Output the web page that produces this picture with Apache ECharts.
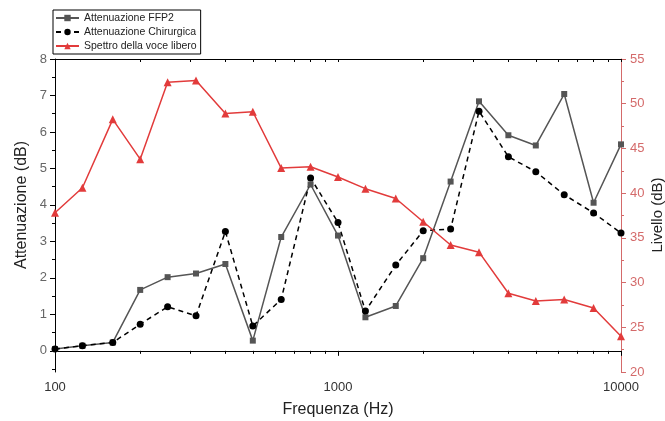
<!DOCTYPE html>
<html>
<head>
<meta charset="utf-8">
<script src="https://cdn.jsdelivr.net/npm/echarts@6/dist/echarts.min.js"></script>
<style>
html,body{margin:0;padding:0;background:#fff;}
#chart{width:665px;height:421px;}
</style>
</head>
<body>
<div id="chart"></div>
<script>
var freqs = [100,125,160,200,250,315,400,500,630,800,1000,1250,1600,2000,2500,3150,4000,5000,6300,8000,10000];
var ffp2 = [0.05,0.14,0.23,1.67,2.02,2.12,2.38,0.28,3.12,4.56,3.16,0.92,1.23,2.54,4.64,6.84,5.91,5.63,7.04,4.06,5.66];
var chirurgica = [0.05,0.14,0.23,0.73,1.21,0.96,3.27,0.68,1.41,4.74,3.52,1.09,2.35,3.29,3.34,6.57,5.32,4.91,4.28,3.78,3.23];
var spettro = [37.8,40.6,48.25,43.8,52.4,52.6,48.9,49.1,42.8,42.95,41.8,40.5,39.4,36.8,34.2,33.4,28.8,27.95,28.1,27.15,24.0];
var seriesNames = ['Attenuazione FFP2','Attenuazione Chirurgica','Spettro della voce libero'];
var xMajorTicks = [100,1000,10000];
var xMinorTicks = [200,300,400,500,600,700,800,900,2000,3000,4000,5000,6000,7000,8000,9000];
var leftTicks = [0,1,2,3,4,5,6,7,8];
var leftMinorTicks = [-0.5,0.5,1.5,2.5,3.5,4.5,5.5,6.5,7.5];
var xTitle = 'Frequenza (Hz)';
var leftTitle = 'Attenuazione (dB)';
var rightTitle = 'Livello (dB)';

function pairs(xs, ys){ return xs.map(function(x,i){ return [x, ys[i]]; }); }

var FONT = '"Liberation Sans", Arial, sans-serif';
var RED = '#e23b3b';
var RED_AXIS = '#d46a6a';
var LEFT_MIN = -0.58, LEFT_MAX = 8;

var chart = echarts.init(document.getElementById('chart'), null, {renderer:'canvas'});
chart.setOption({
  animation: false,
  backgroundColor: '#fff',
  textStyle: {fontFamily: FONT},
  grid: {left: 55, right: 44, top: 59, bottom: 49, containLabel: false},
  legend: {
    data: seriesNames,
    orient: 'vertical',
    left: 53, top: 10,
    backgroundColor: '#fff',
    borderColor: '#000', borderWidth: 1, borderRadius: 0,
    padding: [2, 4, 2, 2],
    itemWidth: 23, itemHeight: 8, itemGap: 2,
    textStyle: {fontFamily: FONT, fontSize: 10.5, color: '#222', lineHeight: 12}
  },
  xAxis: [
    {type: 'log', logBase: 10, min: 100, max: 10000, position: 'bottom', gridIndex: 0,
     axisLine: {show: true, lineStyle: {color: '#000', width: 1}},
     axisTick: {show: true, inside: false, length: 5, customValues: xMajorTicks, lineStyle: {color: '#000'}},
     axisLabel: {show: true, customValues: xMajorTicks, color: '#333', fontSize: 13, margin: 9, fontFamily: FONT,
                 formatter: function(v){ return String(Math.round(v)); }},
     splitLine: {show: false}, minorTick: {show: false}},
    {type: 'log', logBase: 10, min: 100, max: 10000, position: 'bottom', gridIndex: 0,
     axisLine: {show: false},
     axisTick: {show: true, inside: false, length: 3, customValues: xMinorTicks, lineStyle: {color: '#000'}},
     axisLabel: {show: false}, splitLine: {show: false}},
    {type: 'log', logBase: 10, min: 100, max: 10000, position: 'top', gridIndex: 0,
     axisLine: {show: true, lineStyle: {color: '#000', width: 1}},
     axisTick: {show: true, inside: true, length: 3, customValues: xMinorTicks.concat(xMajorTicks), lineStyle: {color: '#000'}},
     axisLabel: {show: false}, splitLine: {show: false}}
  ],
  yAxis: [
    {type: 'value', min: LEFT_MIN, max: LEFT_MAX, position: 'left',
     axisLine: {show: true, lineStyle: {color: '#000', width: 1}},
     axisTick: {show: true, inside: false, length: 5, customValues: leftTicks, lineStyle: {color: '#000'}},
     axisLabel: {show: true, customValues: leftTicks, color: '#666', fontSize: 13, margin: 8, fontFamily: FONT},
     splitLine: {show: false}},
    {type: 'value', min: 20, max: 55, interval: 5, position: 'right',
     axisLine: {show: true, lineStyle: {color: RED_AXIS, width: 1}},
     axisTick: {show: true, inside: false, length: 5, lineStyle: {color: RED_AXIS}},
     minorTick: {show: true, splitNumber: 2, length: 3, lineStyle: {color: RED_AXIS}},
     axisLabel: {show: true, color: RED_AXIS, fontSize: 13, margin: 9, fontFamily: FONT},
     splitLine: {show: false}},
    {type: 'value', min: LEFT_MIN, max: LEFT_MAX, position: 'left',
     axisLine: {show: false},
     axisTick: {show: true, inside: false, length: 3, customValues: leftMinorTicks, lineStyle: {color: '#000'}},
     axisLabel: {show: false}, splitLine: {show: false}}
  ],
  graphic: [
    {type: 'text', x: 22, y: 205, rotation: Math.PI/2,
     style: {text: leftTitle, font: '16px ' + FONT, fill: '#222', align: 'center', verticalAlign: 'middle'}},
    {type: 'text', x: 658, y: 215, rotation: Math.PI/2,
     style: {text: rightTitle, font: '15px ' + FONT, fill: '#222', align: 'center', verticalAlign: 'middle'}},
    {type: 'text', x: 338, y: 410,
     style: {text: xTitle, font: '16px ' + FONT, fill: '#222', align: 'center', verticalAlign: 'middle'}}
  ],
  series: [
    {name: seriesNames[0], type: 'line', xAxisIndex: 0, yAxisIndex: 0,
     data: pairs(freqs, ffp2), symbol: 'rect', symbolSize: 6,
     itemStyle: {color: '#555'}, lineStyle: {color: '#555', width: 1.5}},
    {name: seriesNames[1], type: 'line', xAxisIndex: 0, yAxisIndex: 0,
     data: pairs(freqs, chirurgica), symbol: 'circle', symbolSize: 7,
     itemStyle: {color: '#000'}, lineStyle: {color: '#000', width: 1.5, type: [5, 4]}},
    {name: seriesNames[2], type: 'line', xAxisIndex: 0, yAxisIndex: 1,
     data: pairs(freqs, spettro), symbol: 'triangle', symbolSize: 8,
     itemStyle: {color: RED}, lineStyle: {color: RED, width: 1.5}}
  ]
});
</script>
</body>
</html>
